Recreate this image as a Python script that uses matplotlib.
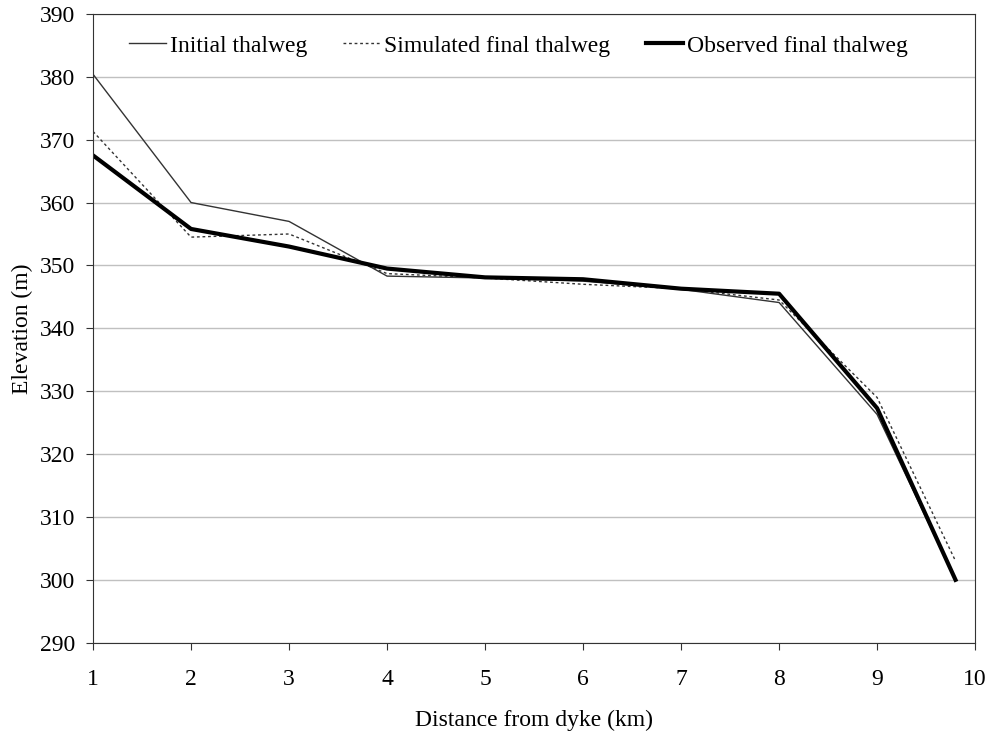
import matplotlib
matplotlib.use("Agg")
import matplotlib.pyplot as plt

# distance from dyke (km)
distance = [1, 2, 3, 4, 5, 6, 7, 8, 9, 9.8]
initial = [380.4, 360.0, 357.0, 348.3, 348.0, 347.5, 346.2, 344.1, 326.3, 300.0]
simulated = [371.3, 354.5, 355.0, 348.7, 348.0, 347.0, 346.3, 344.5, 329.0, 303.0]
observed = [367.5, 355.8, 353.0, 349.5, 348.1, 347.8, 346.3, 345.5, 327.3, 300.0]

plt.rcParams["font.family"] = ["Liberation Serif", "DejaVu Serif"]

fig = plt.figure(figsize=(9.95, 7.32), dpi=100)
ax = fig.add_axes([0.0935, 0.122, 0.8865, 0.859])

ax.plot(distance, initial, "-", color="#333333", lw=1.0, label="Initial thalweg")
ax.plot(distance, simulated, color="#333333", lw=1.0, ls=(0, (2, 2)), label="Simulated final thalweg")
ax.plot(distance, observed, "-", color="black", lw=3.0, label="Observed final thalweg")

ax.set_xlim(1, 10)
ax.set_ylim(290, 390)
ax.set_xticks(range(1, 11))
ax.set_yticks(range(290, 391, 10))
ax.yaxis.grid(True, color="#c0c0c0", lw=1.0)
ax.set_axisbelow(True)
ax.tick_params(direction="out", length=5, labelsize=17, color="#333333")
ax.tick_params(axis="x", pad=14)
ax.tick_params(axis="y", pad=8)
for s in ax.spines.values():
    s.set_color("#333333")
ax.set_xlabel("Distance from dyke (km)", fontsize=17, labelpad=14)
ax.set_ylabel("Elevation (m)", fontsize=17, labelpad=5)
ax.legend(loc="upper center", ncol=3, frameon=False, fontsize=17,
          handlelength=1.6, handletextpad=0.15, columnspacing=1.5,
          bbox_to_anchor=(0.482, 1.0))

fig.savefig("out.png", dpi=100)
